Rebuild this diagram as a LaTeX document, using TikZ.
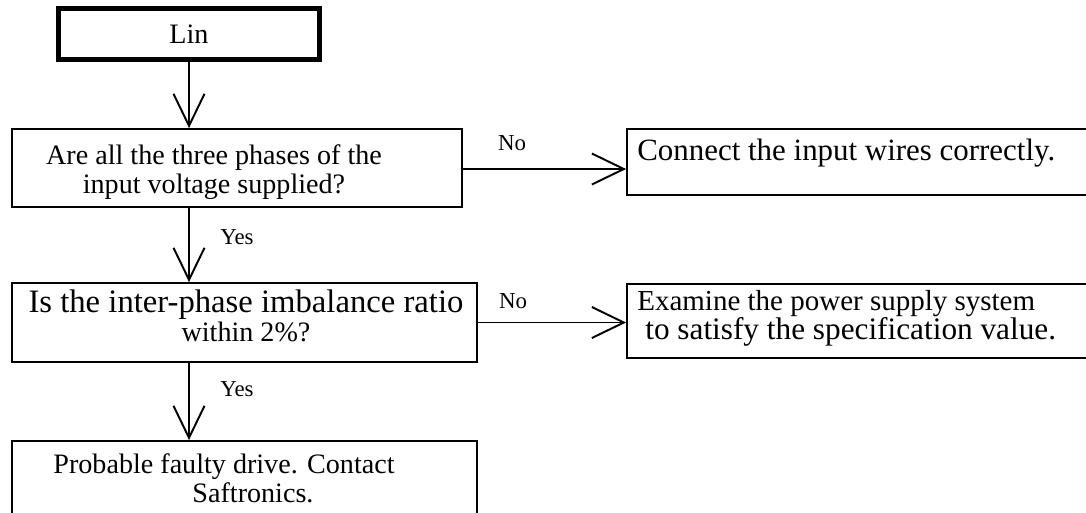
\documentclass[tikz,border=0pt]{standalone}
\usepackage{fontspec}
\setmainfont{Liberation Serif}
\usetikzlibrary{arrows.meta}

\begin{document}
\begin{tikzpicture}[x=0.02cm,y=-0.02cm,
  >={Straight Barb[length=0.64cm,width=0.62cm]},
  box/.style={draw,line width=1.1pt,inner sep=0pt},
  txt/.style={inner sep=0pt,font=\fontsize{16}{16.5}\selectfont},
  lbl/.style={inner sep=0pt,font=\fontsize{13}{14}\selectfont},
  flow/.style={->,line width=1.1pt}]
  \useasboundingbox (0,0) rectangle (1086,512);
  \clip (0,0) rectangle (1086,512);
  % boxes
  \node[box,line width=2.8pt,minimum width=5.22cm,minimum height=1.02cm,
        font=\fontsize{16}{16.5}\selectfont] (lin) at (189,34) {Lin};
  \node[box,minimum width=9cm,minimum height=1.56cm] (q1) at (237,168) {};
  \node[box,minimum width=9.3cm,minimum height=1.58cm] (q2) at (244.5,322.5) {};
  \node[box,minimum width=9.3cm,minimum height=1.68cm] (fault) at (244.5,483) {};
  \node[box,minimum width=9.38cm,minimum height=1.32cm] (wires) at (861.5,162) {};
  \node[box,minimum width=9.38cm,minimum height=1.48cm] (supply) at (861.5,321) {};
  % texts
  \node[txt,align=center,anchor=north] (q1t) at (214,144)
    {Are all the three phases of the\\input voltage supplied?};
  \node[txt,align=center,anchor=north] (q2t) at (246,289)
    {{\fontsize{18.6}{16.5}\selectfont Is the inter-phase imbalance ratio}\\within 2\%?};
  \node[txt,align=center,anchor=north] (faultt) at (224,453)
    {Probable faulty drive. Contact\\\hspace*{1.16cm}Saftronics.};
  \node[txt,anchor=north west,font=\fontsize{17.6}{16.5}\selectfont] (wirest) at (637,139)
    {Connect the input wires correctly.};
  \node[txt,align=left,anchor=north west] (supplyt) at (637,290)
    {{\fontsize{16.5}{16.5}\selectfont Examine the power supply system}\\
     \hspace*{0.16cm}{\fontsize{17.8}{16.5}\selectfont to satisfy the specification value.}};
  % labels
  \node[lbl] (no1) at (512,143) {No};
  \node[lbl] (no2) at (513,301) {No};
  \node[lbl] (yes1) at (237,237) {Yes};
  \node[lbl] (yes2) at (237,389) {Yes};
  % connectors
  \draw[flow] (lin.south) -- (lin.south |- q1.north);
  \draw[flow] (q1.south -| lin.south) -- (q2.north -| lin.south);
  \draw[flow] (q2.south -| lin.south) -- (fault.north -| lin.south);
  \draw[flow] ([yshift=-0.02cm]q1.east) -- ([yshift=-0.02cm]q1.east -| wires.west);
  \draw[flow] (q2.east) -- (q2.east -| supply.west);
\end{tikzpicture}
\end{document}
